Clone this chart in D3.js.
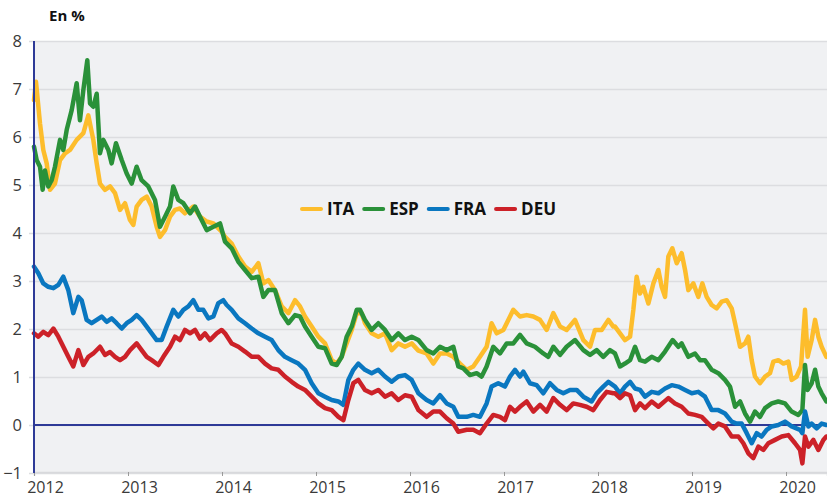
<!DOCTYPE html>
<html>
<head>
<meta charset="utf-8">
<script src="https://cdn.jsdelivr.net/npm/d3@7"></script>
<style>
  body { margin: 0; background: #fff; }
  text { font-family: "Open Sans", "DejaVu Sans", sans-serif; }
</style>
</head>
<body>
<svg id="canvas" width="827" height="501"></svg>
<script>
// values, [decimal year, yield %]
const ita = [[2012.000,6.77],[2012.021,7.15],[2012.064,6.28],[2012.099,5.73],[2012.135,5.45],[2012.170,4.9],[2012.223,5.03],[2012.277,5.52],[2012.330,5.66],[2012.383,5.73],[2012.454,5.94],[2012.525,6.08],[2012.578,6.45],[2012.631,5.94],[2012.667,5.45],[2012.702,5.03],[2012.755,4.9],[2012.809,4.97],[2012.862,4.83],[2012.915,4.48],[2012.968,4.62],[2013.021,4.27],[2013.057,4.17],[2013.092,4.55],[2013.145,4.69],[2013.199,4.76],[2013.252,4.55],[2013.305,4.13],[2013.340,3.92],[2013.394,4.06],[2013.447,4.34],[2013.500,4.48],[2013.553,4.51],[2013.606,4.41],[2013.695,4.55],[2013.766,4.34],[2013.837,4.24],[2013.908,4.20],[2013.996,4.03],
  [2014.032,3.92],[2014.103,3.78],[2014.174,3.51],[2014.245,3.30],[2014.316,3.19],[2014.387,3.37],[2014.440,2.95],[2014.493,3.02],[2014.564,2.81],[2014.635,2.47],[2014.706,2.33],[2014.777,2.60],[2014.830,2.47],[2014.883,2.26],[2014.954,2.05],[2015.025,1.84],[2015.096,1.70],[2015.167,1.35],[2015.220,1.28],[2015.273,1.42],[2015.326,1.70],[2015.380,1.98],[2015.433,2.33],[2015.486,2.33],[2015.521,2.12],[2015.592,1.91],[2015.663,1.84],[2015.734,1.91],[2015.805,1.56],[2015.876,1.70],[2015.947,1.63],[2016.018,1.70],[2016.089,1.55],
  [2016.177,1.49],[2016.248,1.28],[2016.319,1.49],[2016.390,1.49],[2016.461,1.42],[2016.532,1.28],[2016.603,1.15],[2016.673,1.22],[2016.744,1.42],[2016.815,1.63],[2016.868,2.12],[2016.922,1.91],[2016.993,1.98],[2017.064,2.26],[2017.099,2.40],[2017.170,2.26],[2017.241,2.29],[2017.312,2.26],[2017.383,2.19],[2017.454,1.98],[2017.525,2.33],[2017.596,2.05],[2017.666,1.98],[2017.755,2.19],[2017.844,1.77],[2017.915,1.63],[2017.968,1.98],[2018.039,1.98],[2018.110,2.19],[2018.163,2.05],
  [2018.181,2.05],[2018.234,1.91],[2018.287,1.77],[2018.341,1.84],[2018.376,2.40],[2018.411,3.09],[2018.447,2.74],[2018.482,2.88],[2018.536,2.53],[2018.589,2.95],[2018.642,3.23],[2018.677,2.88],[2018.713,2.67],[2018.748,3.51],[2018.791,3.68],[2018.837,3.37],[2018.890,3.58],[2018.926,3.23],[2018.961,2.81],[2019.014,2.95],[2019.067,2.67],[2019.110,2.95],[2019.156,2.67],[2019.209,2.50],[2019.262,2.43],[2019.316,2.57],[2019.369,2.60],[2019.422,2.43],[2019.458,2.12],[2019.511,1.63],[2019.564,1.70],[2019.599,1.84],[2019.635,1.35],[2019.670,1.01],[2019.723,0.87],[2019.777,1.01],[2019.830,1.08],[2019.865,1.32],[2019.918,1.35],[2019.972,1.28],[2020.025,1.32],[2020.060,0.94],[2020.113,1.01],[2020.160,1.22],[2020.202,2.40],[2020.230,1.42],[2020.273,1.77],[2020.309,2.19],[2020.344,1.84],[2020.379,1.63],[2020.429,1.42]];

const esp = [[2012.000,5.8],[2012.028,5.52],[2012.064,5.38],[2012.092,4.9],[2012.117,5.3],[2012.152,4.97],[2012.188,5.1],[2012.223,5.38],[2012.277,5.94],[2012.312,5.73],[2012.348,6.15],[2012.401,6.56],[2012.454,7.12],[2012.489,6.35],[2012.525,6.98],[2012.567,7.6],[2012.596,6.7],[2012.631,6.63],[2012.667,6.9],[2012.702,5.66],[2012.738,5.94],[2012.791,5.73],[2012.826,5.45],[2012.872,5.87],[2012.933,5.52],[2012.986,5.24],[2013.039,5.03],[2013.092,5.38],[2013.145,5.1],[2013.216,4.97],[2013.287,4.69],[2013.340,4.13],[2013.394,4.34],[2013.447,4.55],[2013.482,4.97],[2013.535,4.69],[2013.589,4.62],[2013.660,4.41],[2013.713,4.55],[2013.766,4.34],[2013.837,4.06],[2013.908,4.13],[2013.979,4.20],
  [2014.032,3.82],[2014.103,3.68],[2014.174,3.40],[2014.245,3.23],[2014.316,3.06],[2014.387,3.09],[2014.440,2.67],[2014.493,2.81],[2014.564,2.81],[2014.635,2.33],[2014.706,2.12],[2014.777,2.29],[2014.830,2.26],[2014.883,2.05],[2014.954,1.84],[2015.025,1.63],[2015.096,1.60],[2015.167,1.28],[2015.220,1.25],[2015.273,1.42],[2015.326,1.84],[2015.380,2.05],[2015.433,2.40],[2015.468,2.40],[2015.521,2.19],[2015.592,1.98],[2015.663,2.12],[2015.734,1.98],[2015.805,1.77],[2015.876,1.91],[2015.947,1.77],[2016.018,1.84],[2016.089,1.77],
  [2016.177,1.56],[2016.248,1.49],[2016.319,1.63],[2016.390,1.56],[2016.461,1.63],[2016.514,1.22],[2016.567,1.18],[2016.638,1.04],[2016.709,1.08],[2016.762,1.01],[2016.815,1.22],[2016.886,1.63],[2016.957,1.49],[2017.028,1.70],[2017.099,1.70],[2017.170,1.88],[2017.241,1.70],[2017.329,1.63],[2017.418,1.49],[2017.471,1.42],[2017.525,1.63],[2017.596,1.46],[2017.666,1.63],[2017.755,1.77],[2017.844,1.56],[2017.915,1.46],[2017.986,1.56],[2018.056,1.42],[2018.127,1.56],
  [2018.181,1.49],[2018.234,1.22],[2018.287,1.28],[2018.341,1.35],[2018.394,1.63],[2018.447,1.35],[2018.500,1.32],[2018.571,1.42],[2018.642,1.35],[2018.713,1.53],[2018.794,1.77],[2018.855,1.63],[2018.890,1.70],[2018.961,1.42],[2019.032,1.49],[2019.085,1.35],[2019.138,1.35],[2019.209,1.15],[2019.280,1.08],[2019.351,0.94],[2019.404,0.80],[2019.458,0.38],[2019.511,0.49],[2019.564,0.24],[2019.617,0.07],[2019.670,0.28],[2019.723,0.17],[2019.777,0.35],[2019.848,0.45],[2019.918,0.49],[2019.989,0.45],[2020.060,0.28],[2020.131,0.21],[2020.174,0.31],[2020.202,1.25],[2020.230,0.73],[2020.273,0.87],[2020.309,1.15],[2020.344,0.80],[2020.379,0.66],[2020.429,0.49]];

const fra = [[2012.000,3.3],[2012.046,3.16],[2012.099,2.95],[2012.152,2.88],[2012.206,2.85],[2012.259,2.92],[2012.312,3.09],[2012.365,2.81],[2012.418,2.33],[2012.472,2.67],[2012.507,2.6],[2012.560,2.19],[2012.613,2.12],[2012.667,2.19],[2012.720,2.26],[2012.773,2.15],[2012.826,2.22],[2012.879,2.12],[2012.933,2.01],[2012.986,2.12],[2013.039,2.19],[2013.092,2.29],[2013.145,2.19],[2013.199,2.05],[2013.252,1.91],[2013.305,1.77],[2013.358,1.77],[2013.411,2.05],[2013.482,2.4],[2013.535,2.26],[2013.589,2.4],[2013.642,2.47],[2013.695,2.6],[2013.748,2.4],[2013.801,2.4],[2013.855,2.22],[2013.908,2.26],[2013.961,2.54],[2014.014,2.6],
  [2014.050,2.50],[2014.103,2.40],[2014.174,2.22],[2014.245,2.12],[2014.316,2.01],[2014.387,1.91],[2014.458,1.84],[2014.528,1.77],[2014.599,1.56],[2014.670,1.42],[2014.741,1.35],[2014.812,1.28],[2014.883,1.15],[2014.954,0.87],[2015.025,0.66],[2015.096,0.59],[2015.167,0.52],[2015.238,0.49],[2015.291,0.42],[2015.344,0.94],[2015.397,1.15],[2015.450,1.28],[2015.521,1.15],[2015.592,1.08],[2015.663,1.15],[2015.734,1.01],[2015.805,0.90],[2015.876,1.01],[2015.947,1.04],[2016.018,0.94],[2016.089,0.66],
  [2016.177,0.52],[2016.248,0.45],[2016.319,0.62],[2016.390,0.45],[2016.461,0.38],[2016.514,0.17],[2016.603,0.17],[2016.673,0.21],[2016.744,0.17],[2016.815,0.45],[2016.868,0.80],[2016.939,0.87],[2017.010,0.80],[2017.064,1.01],[2017.117,1.15],[2017.170,1.01],[2017.205,1.11],[2017.276,0.87],[2017.347,0.83],[2017.418,0.66],[2017.489,0.87],[2017.560,0.73],[2017.631,0.66],[2017.702,0.73],[2017.773,0.73],[2017.844,0.59],[2017.932,0.49],[2017.986,0.66],[2018.056,0.80],[2018.110,0.90],
  [2018.181,0.80],[2018.234,0.66],[2018.287,0.80],[2018.341,0.90],[2018.394,0.76],[2018.447,0.73],[2018.500,0.59],[2018.571,0.69],[2018.642,0.66],[2018.713,0.76],[2018.784,0.83],[2018.855,0.80],[2018.926,0.73],[2018.997,0.66],[2019.067,0.69],[2019.138,0.59],[2019.209,0.31],[2019.280,0.31],[2019.351,0.24],[2019.422,0.07],[2019.475,0.03],[2019.528,0.03],[2019.582,-0.17],[2019.635,-0.38],[2019.688,-0.17],[2019.741,-0.24],[2019.794,-0.10],[2019.848,-0.03],[2019.918,0.00],[2019.989,0.07],[2020.060,-0.03],[2020.149,-0.10],[2020.174,-0.17],[2020.202,0.28],[2020.238,-0.03],[2020.273,0.03],[2020.326,-0.07],[2020.379,0.03],[2020.429,0.00]];

const deu = [[2012.000,1.91],[2012.046,1.84],[2012.099,1.94],[2012.152,1.87],[2012.206,2.01],[2012.259,1.84],[2012.312,1.63],[2012.365,1.42],[2012.418,1.22],[2012.472,1.56],[2012.525,1.25],[2012.578,1.42],[2012.631,1.49],[2012.702,1.63],[2012.755,1.46],[2012.809,1.52],[2012.862,1.42],[2012.915,1.35],[2012.968,1.42],[2013.021,1.56],[2013.092,1.70],[2013.145,1.56],[2013.199,1.42],[2013.252,1.35],[2013.323,1.25],[2013.376,1.42],[2013.447,1.63],[2013.500,1.84],[2013.553,1.77],[2013.606,1.98],[2013.660,1.91],[2013.713,1.98],[2013.766,1.80],[2013.819,1.91],[2013.872,1.77],[2013.943,1.91],[2013.996,1.98],
  [2014.032,1.91],[2014.103,1.70],[2014.174,1.63],[2014.245,1.53],[2014.316,1.42],[2014.387,1.42],[2014.458,1.28],[2014.528,1.18],[2014.599,1.15],[2014.670,1.01],[2014.741,0.90],[2014.812,0.80],[2014.883,0.73],[2014.954,0.59],[2015.025,0.45],[2015.096,0.35],[2015.167,0.31],[2015.238,0.17],[2015.291,0.10],[2015.344,0.52],[2015.397,0.87],[2015.450,0.94],[2015.521,0.73],[2015.592,0.66],[2015.663,0.73],[2015.734,0.59],[2015.805,0.66],[2015.876,0.52],[2015.947,0.62],[2016.018,0.59],[2016.089,0.31],
  [2016.177,0.17],[2016.248,0.28],[2016.319,0.28],[2016.390,0.14],[2016.461,0.03],[2016.514,-0.14],[2016.603,-0.10],[2016.673,-0.10],[2016.744,-0.17],[2016.815,0.03],[2016.886,0.21],[2016.957,0.17],[2017.010,0.10],[2017.064,0.38],[2017.117,0.28],[2017.170,0.38],[2017.241,0.49],[2017.312,0.28],[2017.383,0.42],[2017.454,0.28],[2017.525,0.56],[2017.596,0.42],[2017.666,0.31],[2017.737,0.45],[2017.808,0.42],[2017.879,0.38],[2017.950,0.31],[2018.021,0.52],[2018.092,0.69],[2018.163,0.66],
  [2018.181,0.66],[2018.234,0.56],[2018.287,0.66],[2018.341,0.62],[2018.394,0.31],[2018.447,0.45],[2018.500,0.35],[2018.571,0.49],[2018.642,0.38],[2018.748,0.56],[2018.819,0.45],[2018.890,0.38],[2018.961,0.24],[2019.032,0.21],[2019.103,0.17],[2019.174,0.03],[2019.227,-0.07],[2019.280,0.03],[2019.351,-0.03],[2019.422,-0.24],[2019.493,-0.24],[2019.546,-0.38],[2019.599,-0.59],[2019.652,-0.69],[2019.706,-0.45],[2019.759,-0.52],[2019.812,-0.38],[2019.883,-0.31],[2019.954,-0.24],[2020.025,-0.21],[2020.096,-0.38],[2020.149,-0.52],[2020.174,-0.80],[2020.202,-0.24],[2020.238,-0.45],[2020.291,-0.31],[2020.344,-0.52],[2020.397,-0.31],[2020.429,-0.24]];

const seriesNames = ["ITA", "ESP", "FRA", "DEU"];
const seriesColors = ["#fdbd2c", "#2a9139", "#0a77c0", "#cc2128"];
const yearTicks = [2012, 2013, 2014, 2015, 2016, 2017, 2018, 2019, 2020];
const yTicks = [-1, 0, 1, 2, 3, 4, 5, 6, 7, 8];

const svg = d3.select("#canvas");
const plotLeft = 34, plotRight = 827, plotTop = 41, plotBottom = 473;

const x = d3.scaleLinear().domain([2012, 2020.436]).range([plotLeft, plotRight]);
const y = d3.scaleLinear().domain([-1, 8]).range([plotBottom, plotTop]);

// plot background
svg.append("rect")
	.attr("x", plotLeft).attr("y", plotTop)
	.attr("width", plotRight - plotLeft).attr("height", plotBottom - plotTop)
	.attr("fill", "#f0f1f3");

// gridlines + y labels
const yAxis = d3.axisLeft(y).tickValues(yTicks).tickSize(-(plotRight - plotLeft)).tickPadding(12).tickFormat(d3.format("d"));
const gy = svg.append("g").attr("transform", "translate(" + plotLeft + ",0)").call(yAxis);
gy.select(".domain").remove();
gy.selectAll(".tick line").attr("stroke", "#dcdde0").attr("stroke-width", 1.5).attr("x1", -5);
gy.selectAll(".tick text").attr("fill", "#3a3a3a").style("font-size", "16.5px");

// x axis ticks and labels
const xAxis = d3.axisBottom(x).tickValues(yearTicks).tickSize(4).tickPadding(6).tickFormat(d3.format("d"));
const gx = svg.append("g").attr("transform", "translate(0," + (plotBottom - 1) + ")").call(xAxis);
gx.select(".domain").attr("stroke", "#d8d9dc").attr("stroke-width", 1.5);
gx.selectAll(".tick line").attr("stroke", "#999");
gx.selectAll(".tick text").attr("fill", "#3a3a3a").style("font-size", "16px").attr("dx", 11);

// zero line
svg.append("line")
	.attr("x1", plotLeft).attr("x2", plotRight)
	.attr("y1", y(0)).attr("y2", y(0))
	.attr("stroke", "#2e3a97").attr("stroke-width", 2);

const line = d3.line()
	.x(d => x(d[0]))
	.y(d => y(d[1]));

const allSeries = [ita, esp, fra, deu];
svg.append("g").selectAll("path")
	.data(allSeries)
	.enter().append("path")
	.attr("d", line)
	.attr("fill", "none")
	.attr("stroke", (d, i) => seriesColors[i])
	.attr("stroke-width", 4.5)
	.attr("stroke-linejoin", "round")
	.attr("stroke-linecap", "round");

// left axis line
svg.append("line")
	.attr("x1", plotLeft).attr("x2", plotLeft)
	.attr("y1", plotTop).attr("y2", plotBottom)
	.attr("stroke", "#2e3a97").attr("stroke-width", 2);

// unit label
svg.append("text")
	.attr("x", 49).attr("y", 21)
	.style("font-size", "15px").style("font-weight", "bold")
	.attr("fill", "#111")
	.text("En %");

// legend
const legend = svg.append("g").attr("transform", "translate(300,209)");
let lx = 0;
seriesNames.forEach((name, i) => {
	legend.append("line")
		.attr("x1", lx + 2).attr("x2", lx + 21)
		.attr("y1", 0).attr("y2", 0)
		.attr("stroke", seriesColors[i]).attr("stroke-width", 4)
		.attr("stroke-linecap", "round");
	const t = legend.append("text")
		.attr("x", lx + 27).attr("y", 6)
		.style("font-size", "17px").style("font-weight", "bold")
		.attr("fill", "#111")
		.text(name);
	lx += 27 + t.node().getComputedTextLength() + 8;
});
</script>
</body>
</html>
